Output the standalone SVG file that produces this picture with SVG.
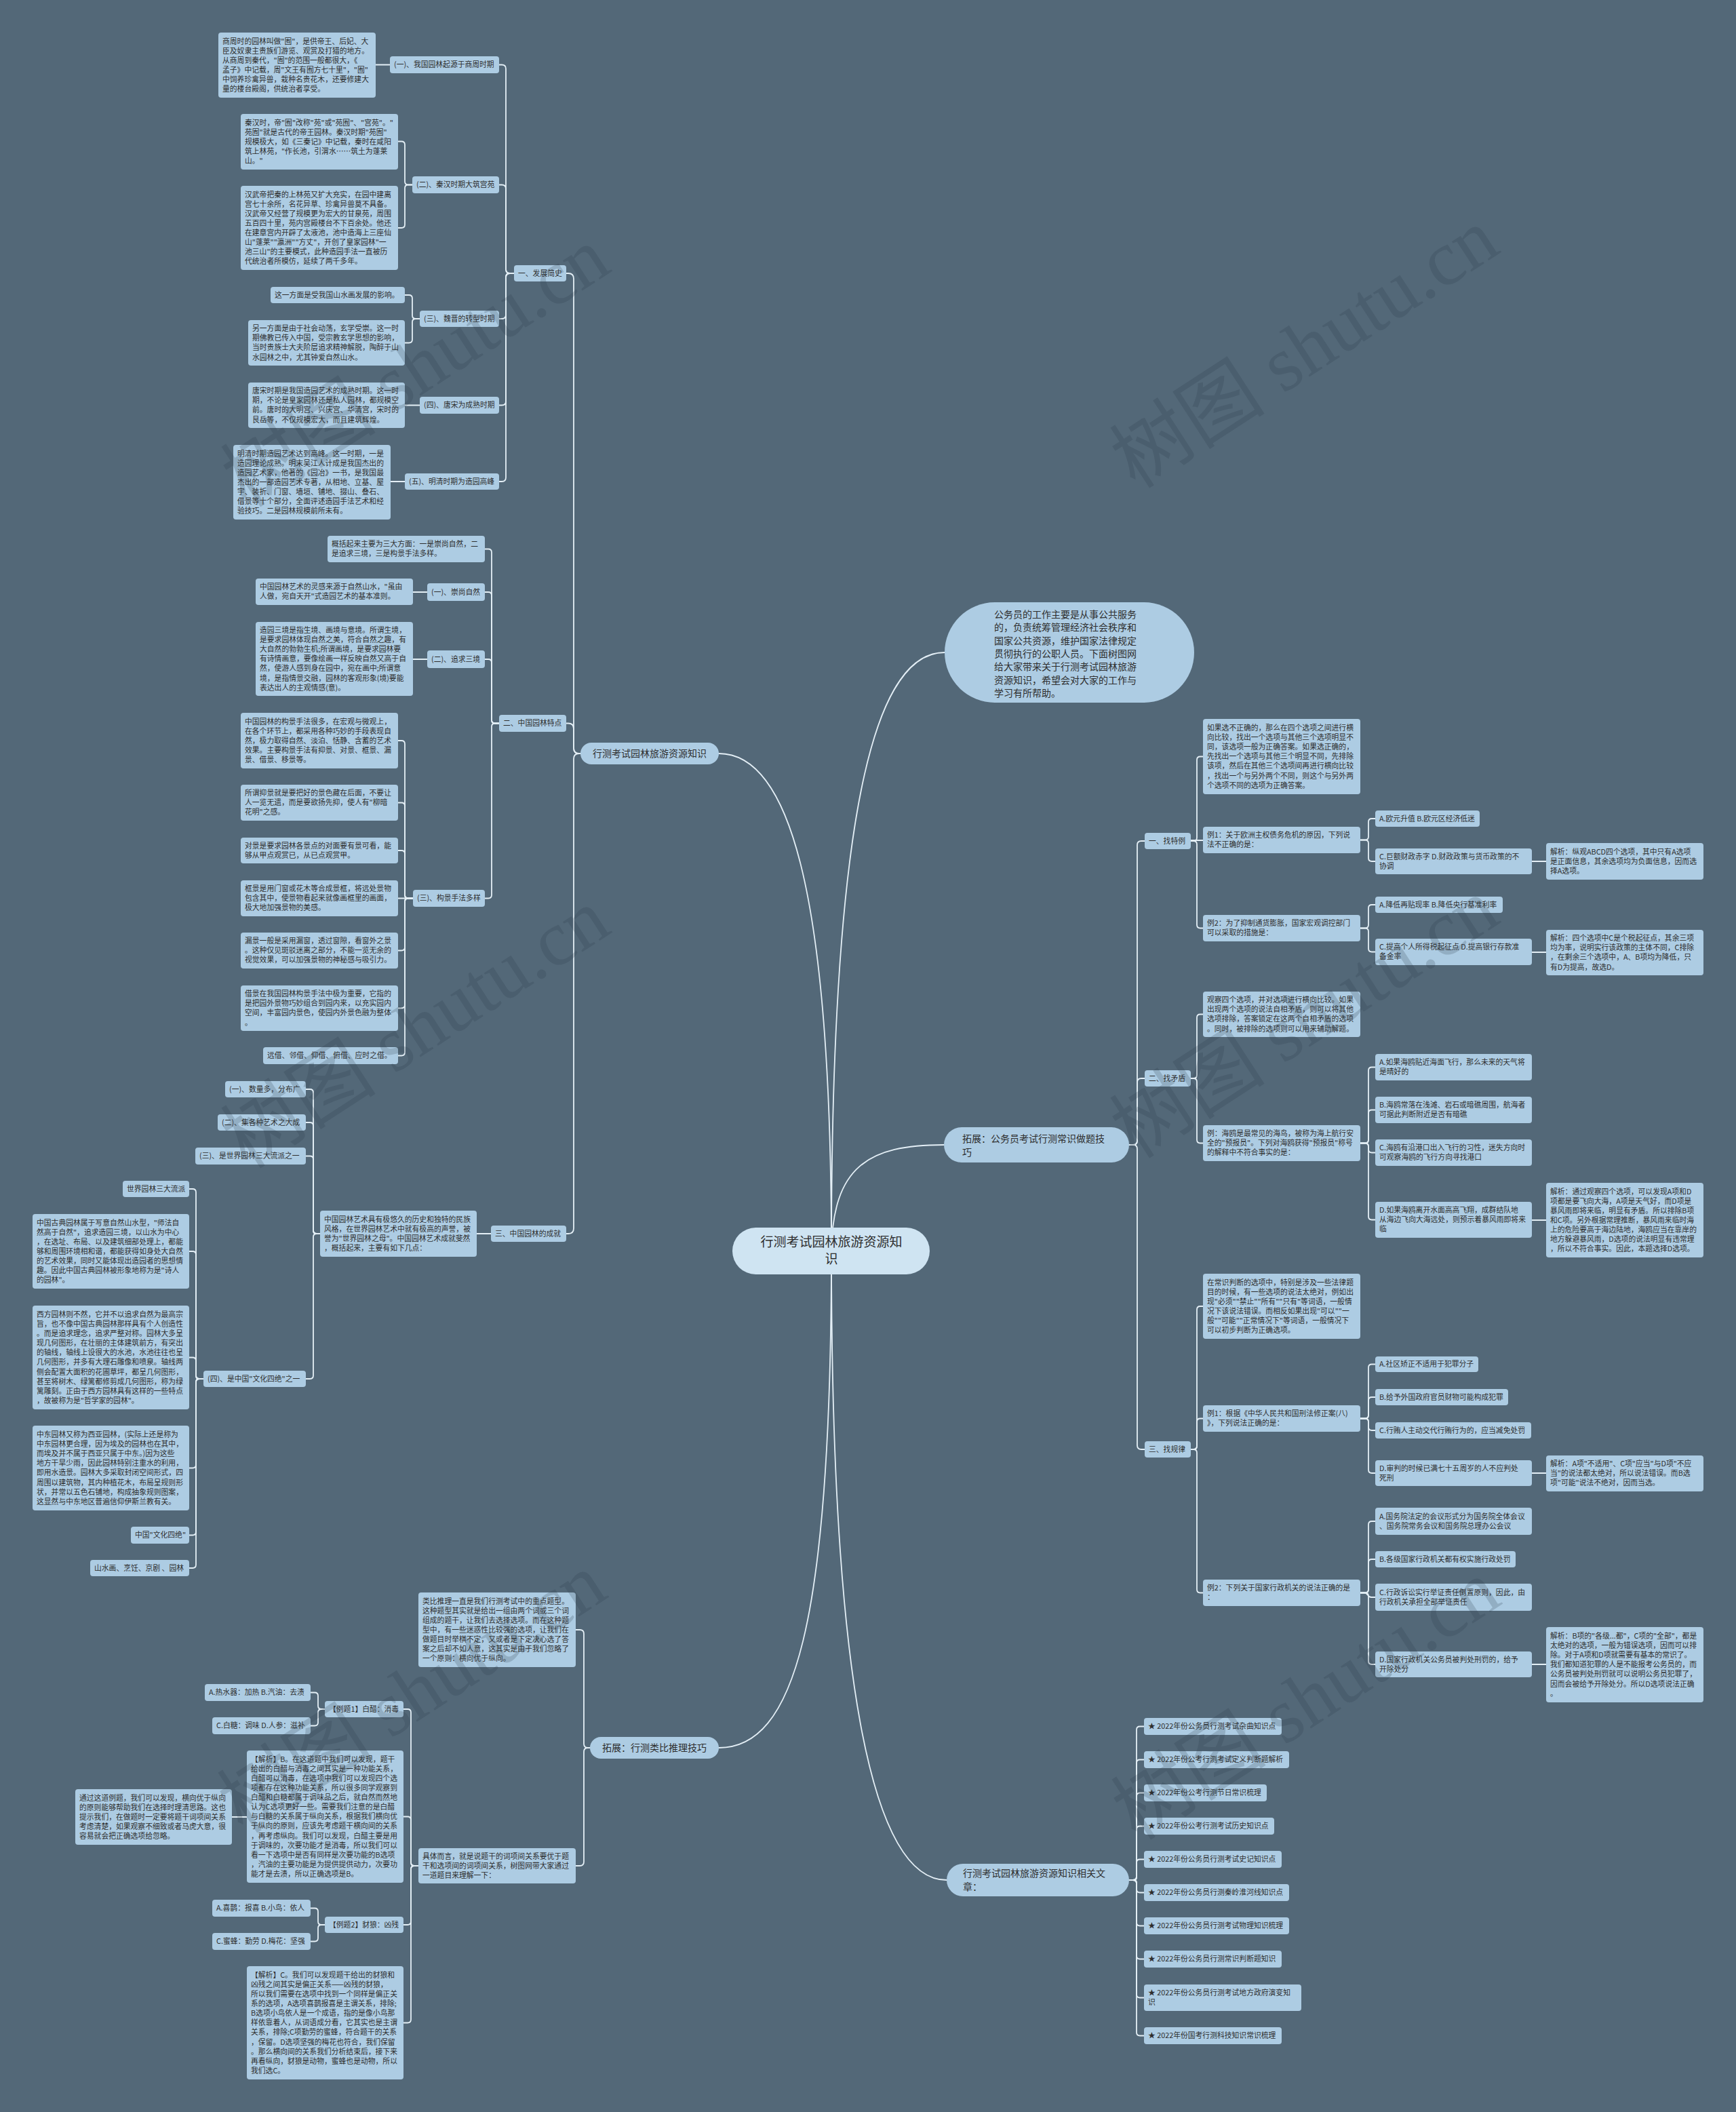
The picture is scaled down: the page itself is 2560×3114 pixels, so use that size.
<svg xmlns="http://www.w3.org/2000/svg" width="2560" height="3114" viewBox="0 0 2560 3114">
<style>
.c{fill:none;stroke:#E4EFF6;stroke-width:1.8;stroke-linecap:round}
.b{fill:#ADCCE3}
.t{font-family:"Noto Sans CJK SC","Noto Sans",sans-serif;font-size:10.8px;fill:#2E2E2E}
.tl{font-size:14px}
.tc{font-size:19px}
.wm{font-family:"Liberation Serif","Noto Sans CJK SC",serif;font-size:115px;fill:#2A3844;fill-opacity:0.2}
</style>
<rect x="0" y="0" width="2560" height="3114" fill="#536878"/>
<g id="connectors">
<path class="c" d="M1226,1845 C1226,1300 1160,1111 1060,1111"/>
<path class="c" d="M1226,1845 C1226,2400 1170,2577 1060,2577"/>
<path class="c" d="M1226,1845 C1226,1150 1300,962 1393,962"/>
<path class="c" d="M1226,1845 C1228,1720 1280,1688 1392,1688"/>
<path class="c" d="M1226,1845 C1226,2500 1290,2772 1396,2772"/>
<path class="c" d="M856,1111 H854 Q846,1111 846,1103 V411 Q846,403 838,403 H835"/>
<path class="c" d="M856,1111 H854 Q846,1111 846,1103 V1074.5 Q846,1066.5 838,1066.5 H835"/>
<path class="c" d="M856,1111 H854 Q846,1111 846,1119 V1811 Q846,1819 838,1819 H835"/>
<path class="c" d="M758,403 H752 Q746,403 746,397 V101.5 Q746,95.5 740,95.5 H736"/>
<path class="c" d="M758,403 H752 Q746,403 746,397 V278.5 Q746,272.5 740,272.5 H736"/>
<path class="c" d="M758,403 H752 Q746,403 746,409 V464 Q746,470 740,470 H736"/>
<path class="c" d="M758,403 H752 Q746,403 746,409 V591.5 Q746,597.5 740,597.5 H736"/>
<path class="c" d="M758,403 H752 Q746,403 746,409 V704 Q746,710 740,710 H736"/>
<path class="c" d="M575,95.5 H554"/>
<path class="c" d="M608,272.5 H602 Q597,272.5 597,267.5 V213.5 Q597,208.5 592,208.5 H587"/>
<path class="c" d="M608,272.5 H602 Q597,272.5 597,277.5 V331 Q597,336 592,336 H587"/>
<path class="c" d="M619,470 H613 Q608,470 608,465 V440 Q608,435 603,435 H597"/>
<path class="c" d="M619,470 H613 Q608,470 608,475 V500.5 Q608,505.5 603,505.5 H597"/>
<path class="c" d="M619,597.5 H597"/>
<path class="c" d="M597,710 H576"/>
<path class="c" d="M736,1066.5 H730 Q725,1066.5 725,1061.5 V814.5 Q725,809.5 720,809.5 H715"/>
<path class="c" d="M736,1066.5 H730 Q725,1066.5 725,1061.5 V878 Q725,873 720,873 H715"/>
<path class="c" d="M736,1066.5 H730 Q725,1066.5 725,1061.5 V977 Q725,972 720,972 H715"/>
<path class="c" d="M736,1066.5 H730 Q725,1066.5 725,1071.5 V1319.5 Q725,1324.5 720,1324.5 H715"/>
<path class="c" d="M630,873 H609"/>
<path class="c" d="M630,972 H609"/>
<path class="c" d="M609,1324.5 H602 Q597,1324.5 597,1319.5 V1097 Q597,1092 592,1092 H587"/>
<path class="c" d="M609,1324.5 H602 Q597,1324.5 597,1319.5 V1188.5 Q597,1183.5 592,1183.5 H587"/>
<path class="c" d="M609,1324.5 H602 Q597,1324.5 597,1319.5 V1259 Q597,1254 592,1254 H587"/>
<path class="c" d="M609,1324.5 H587"/>
<path class="c" d="M609,1324.5 H602 Q597,1324.5 597,1329.5 V1396.5 Q597,1401.5 592,1401.5 H587"/>
<path class="c" d="M609,1324.5 H602 Q597,1324.5 597,1329.5 V1481.5 Q597,1486.5 592,1486.5 H587"/>
<path class="c" d="M609,1324.5 H602 Q597,1324.5 597,1329.5 V1551.5 Q597,1556.5 592,1556.5 H587"/>
<path class="c" d="M724,1819 H703"/>
<path class="c" d="M472,1819 H467 Q462,1819 462,1814 V1611 Q462,1606 457,1606 H451"/>
<path class="c" d="M472,1819 H467 Q462,1819 462,1814 V1660 Q462,1655 457,1655 H451"/>
<path class="c" d="M472,1819 H467 Q462,1819 462,1814 V1709.5 Q462,1704.5 457,1704.5 H451"/>
<path class="c" d="M472,1819 H467 Q462,1819 462,1824 V2028 Q462,2033 457,2033 H451"/>
<path class="c" d="M300,2033 H294 Q289,2033 289,2028 V1758 Q289,1753 284,1753 H279"/>
<path class="c" d="M300,2033 H294 Q289,2033 289,2028 V1850 Q289,1845 284,1845 H279"/>
<path class="c" d="M300,2033 H294 Q289,2033 289,2028 V2006.5 Q289,2001.5 284,2001.5 H279"/>
<path class="c" d="M300,2033 H294 Q289,2033 289,2038 V2159.5 Q289,2164.5 284,2164.5 H279"/>
<path class="c" d="M300,2033 H294 Q289,2033 289,2038 V2258.5 Q289,2263.5 284,2263.5 H279"/>
<path class="c" d="M300,2033 H294 Q289,2033 289,2038 V2307 Q289,2312 284,2312 H279"/>
<path class="c" d="M870,2577 H867 Q861,2577 861,2571 V2409 Q861,2403 855,2403 H849"/>
<path class="c" d="M870,2577 H867 Q861,2577 861,2583 V2745 Q861,2751 855,2751 H849"/>
<path class="c" d="M617,2751 H611 Q606,2751 606,2746 V2525 Q606,2520 601,2520 H595"/>
<path class="c" d="M617,2751 H611 Q606,2751 606,2746 V2683.5 Q606,2678.5 601,2678.5 H595"/>
<path class="c" d="M617,2751 H611 Q606,2751 606,2756 V2833 Q606,2838 601,2838 H595"/>
<path class="c" d="M617,2751 H611 Q606,2751 606,2756 V2977.5 Q606,2982.5 601,2982.5 H595"/>
<path class="c" d="M479,2520 H474 Q469,2520 469,2515 V2500.5 Q469,2495.5 464,2495.5 H458"/>
<path class="c" d="M479,2520 H474 Q469,2520 469,2525 V2539.5 Q469,2544.5 464,2544.5 H458"/>
<path class="c" d="M364,2679 H342"/>
<path class="c" d="M479,2838 H474 Q469,2838 469,2833 V2818.5 Q469,2813.5 464,2813.5 H458"/>
<path class="c" d="M479,2838 H474 Q469,2838 469,2843 V2857.5 Q469,2862.5 464,2862.5 H458"/>
<path class="c" d="M1665,1688 H1671 Q1677,1688 1677,1682 V1246 Q1677,1240 1683,1240 H1688"/>
<path class="c" d="M1665,1688 H1671 Q1677,1688 1677,1682 V1596 Q1677,1590 1683,1590 H1688"/>
<path class="c" d="M1665,1688 H1671 Q1677,1688 1677,1694 V2131 Q1677,2137 1683,2137 H1688"/>
<path class="c" d="M1756,1240 H1760 Q1765,1240 1765,1235 V1120.5 Q1765,1115.5 1770,1115.5 H1774"/>
<path class="c" d="M1756,1239 H1774"/>
<path class="c" d="M1756,1240 H1760 Q1765,1240 1765,1245 V1363.5 Q1765,1368.5 1770,1368.5 H1774"/>
<path class="c" d="M2006,1238.5 H2013 Q2018,1238.5 2018,1233.5 V1212 Q2018,1207 2023,1207 H2028"/>
<path class="c" d="M2006,1238.5 H2013 Q2018,1238.5 2018,1243.5 V1265 Q2018,1270 2023,1270 H2028"/>
<path class="c" d="M2259,1270 H2280"/>
<path class="c" d="M2006,1368.5 H2013 Q2018,1368.5 2018,1363.5 V1339 Q2018,1334 2023,1334 H2028"/>
<path class="c" d="M2006,1368.5 H2013 Q2018,1368.5 2018,1373.5 V1398.5 Q2018,1403.5 2023,1403.5 H2028"/>
<path class="c" d="M2259,1404 H2280"/>
<path class="c" d="M1756,1590 H1760 Q1765,1590 1765,1585 V1500.5 Q1765,1495.5 1770,1495.5 H1774"/>
<path class="c" d="M1756,1590 H1760 Q1765,1590 1765,1595 V1680.5 Q1765,1685.5 1770,1685.5 H1774"/>
<path class="c" d="M2006,1685.5 H2013 Q2018,1685.5 2018,1680.5 V1578.5 Q2018,1573.5 2023,1573.5 H2028"/>
<path class="c" d="M2006,1685.5 H2013 Q2018,1685.5 2018,1680.5 V1641.5 Q2018,1636.5 2023,1636.5 H2028"/>
<path class="c" d="M2006,1685.5 H2013 Q2018,1685.5 2018,1690.5 V1694.5 Q2018,1699.5 2023,1699.5 H2028"/>
<path class="c" d="M2006,1685.5 H2013 Q2018,1685.5 2018,1690.5 V1793.5 Q2018,1798.5 2023,1798.5 H2028"/>
<path class="c" d="M2259,1799 H2280"/>
<path class="c" d="M1756,2137 H1760 Q1765,2137 1765,2132 V1931 Q1765,1926 1770,1926 H1774"/>
<path class="c" d="M1756,2137 H1760 Q1765,2137 1765,2132 V2096.5 Q1765,2091.5 1770,2091.5 H1774"/>
<path class="c" d="M1756,2137 H1760 Q1765,2137 1765,2142 V2343.5 Q1765,2348.5 1770,2348.5 H1774"/>
<path class="c" d="M2006,2091.5 H2013 Q2018,2091.5 2018,2086.5 V2016.5 Q2018,2011.5 2023,2011.5 H2028"/>
<path class="c" d="M2006,2091.5 H2013 Q2018,2091.5 2018,2086.5 V2065 Q2018,2060 2023,2060 H2028"/>
<path class="c" d="M2006,2091.5 H2013 Q2018,2091.5 2018,2096.5 V2104 Q2018,2109 2023,2109 H2028"/>
<path class="c" d="M2006,2091.5 H2013 Q2018,2091.5 2018,2096.5 V2167 Q2018,2172 2023,2172 H2028"/>
<path class="c" d="M2259,2172 H2280"/>
<path class="c" d="M2006,2348.5 H2013 Q2018,2348.5 2018,2343.5 V2248 Q2018,2243 2023,2243 H2028"/>
<path class="c" d="M2006,2348.5 H2013 Q2018,2348.5 2018,2343.5 V2304 Q2018,2299 2023,2299 H2028"/>
<path class="c" d="M2006,2348.5 H2012 C2018,2348.5 2016,2355 2022,2355 H2028"/>
<path class="c" d="M2006,2348.5 H2013 Q2018,2348.5 2018,2353.5 V2449 Q2018,2454 2023,2454 H2028"/>
<path class="c" d="M2259,2454 H2280"/>
<path class="c" d="M1665,2772 H1671 Q1676,2772 1676,2767 V2550.5 Q1676,2545.5 1681,2545.5 H1687"/>
<path class="c" d="M1665,2772 H1671 Q1676,2772 1676,2767 V2599.5 Q1676,2594.5 1681,2594.5 H1687"/>
<path class="c" d="M1665,2772 H1671 Q1676,2772 1676,2767 V2648.5 Q1676,2643.5 1681,2643.5 H1687"/>
<path class="c" d="M1665,2772 H1671 Q1676,2772 1676,2767 V2697.5 Q1676,2692.5 1681,2692.5 H1687"/>
<path class="c" d="M1665,2772 H1671 Q1676,2772 1676,2767 V2746.5 Q1676,2741.5 1681,2741.5 H1687"/>
<path class="c" d="M1665,2772 H1671 Q1676,2772 1676,2777 V2785.5 Q1676,2790.5 1681,2790.5 H1687"/>
<path class="c" d="M1665,2772 H1671 Q1676,2772 1676,2777 V2834.5 Q1676,2839.5 1681,2839.5 H1687"/>
<path class="c" d="M1665,2772 H1671 Q1676,2772 1676,2777 V2883.5 Q1676,2888.5 1681,2888.5 H1687"/>
<path class="c" d="M1665,2772 H1671 Q1676,2772 1676,2777 V2940.5 Q1676,2945.5 1681,2945.5 H1687"/>
<path class="c" d="M1665,2772 H1671 Q1676,2772 1676,2777 V2996.5 Q1676,3001.5 1681,3001.5 H1687"/>
</g>

<g id="root"><rect x="1080" y="1810" width="291" height="69" rx="34.5" fill="#CFE4F2"/><text class="t tc" x="1226" y="1837.5" text-anchor="middle"><tspan x="1226">行测考试园林旅游资源知</tspan><tspan x="1226" dy="25">识</tspan></text></g>

<g id="b-main"><rect class="b" x="856" y="1095" width="204" height="32" rx="16"/><text class="t tl" x="958" y="1116" text-anchor="middle">行测考试园林旅游资源知识</text></g>
<g id="b-analogy"><rect class="b" x="870" y="2561" width="190" height="32" rx="16"/><text class="t tl" x="965" y="2582" text-anchor="middle">拓展：行测类比推理技巧</text></g>
<g id="b-intro"><rect class="b" x="1393" y="888" width="368" height="148" rx="74"/><text class="t tl" x="1466" y="911"><tspan x="1466">公务员的工作主要是从事公共服务</tspan><tspan x="1466" dy="19.3">的，负责统筹管理经济社会秩序和</tspan><tspan x="1466" dy="19.3">国家公共资源，维护国家法律规定</tspan><tspan x="1466" dy="19.3">贯彻执行的公职人员。下面树图网</tspan><tspan x="1466" dy="19.3">给大家带来关于行测考试园林旅游</tspan><tspan x="1466" dy="19.3">资源知识，希望会对大家的工作与</tspan><tspan x="1466" dy="19.3">学习有所帮助。</tspan></text></g>
<g id="b-tips"><rect class="b" x="1392" y="1662" width="273" height="52" rx="26"/><text class="t tl" x="1419" y="1684"><tspan x="1419">拓展：公务员考试行测常识做题技</tspan><tspan x="1419" dy="20">巧</tspan></text></g>
<g id="b-related"><rect class="b" x="1396" y="2748" width="269" height="48" rx="24"/><text class="t tl" x="1420" y="2767"><tspan x="1420">行测考试园林旅游资源知识相关文</tspan><tspan x="1420" dy="20">章：</tspan></text></g>

<g id="n-hist"><rect class="b" x="758" y="391" width="77" height="24" rx="4"/><text class="t" x="764" y="406.8">一、发展简史</text></g>
<g id="n-h1"><rect class="b" x="575" y="83" width="161" height="25" rx="4"/><text class="t" x="581" y="99.3">(一)、我国园林起源于商周时期</text></g>
<g id="n-h1a"><rect class="b" x="322" y="48" width="232" height="96" rx="4"/><text class="t" x="328" y="64.5"><tspan x="328">商周时的园林叫做"囿"，是供帝王、后妃、大</tspan><tspan x="328" dy="14.1">臣及奴隶主贵族们游览、观赏及打猎的地方。</tspan><tspan x="328" dy="14.1">从商周到秦代，"囿"的范围一般都很大，《</tspan><tspan x="328" dy="14.1">孟子》中记载，周"文王有囿方七十里"，"囿"</tspan><tspan x="328" dy="14.1">中饲养珍禽异兽，栽种名贵花木，还要修建大</tspan><tspan x="328" dy="14.1">量的楼台殿阁，供统治者享受。</tspan></text></g>
<g id="n-h2"><rect class="b" x="608" y="260" width="128" height="25" rx="4"/><text class="t" x="614" y="276.3">(二)、秦汉时期大筑宫苑</text></g>
<g id="n-h2a"><rect class="b" x="355" y="168" width="232" height="82" rx="4"/><text class="t" x="361" y="184.6"><tspan x="361">秦汉时，帝"囿"改称"苑"或"苑囿"、"宫苑"。"</tspan><tspan x="361" dy="14.1">苑囿"就是古代的帝王园林。秦汉时期"苑囿"</tspan><tspan x="361" dy="14.1">规模极大，如《三秦记》中记载，秦时在咸阳</tspan><tspan x="361" dy="14.1">筑上林苑，"作长池，引渭水……筑土为蓬莱</tspan><tspan x="361" dy="14.1">山。"</tspan></text></g>
<g id="n-h2b"><rect class="b" x="355" y="274" width="232" height="124" rx="4"/><text class="t" x="361" y="290.5"><tspan x="361">汉武帝把秦的上林苑又扩大充实，在园中建离</tspan><tspan x="361" dy="14.1">宫七十余所，名花异草、珍禽异兽莫不具备。</tspan><tspan x="361" dy="14.1">汉武帝又经营了规模更为宏大的甘泉苑，周围</tspan><tspan x="361" dy="14.1">五百四十里，苑内宫殿楼台不下百余处。他还</tspan><tspan x="361" dy="14.1">在建章宫内开辟了太液池，池中造海上三座仙</tspan><tspan x="361" dy="14.1">山"蓬莱""瀛洲""方丈"，开创了皇家园林"一</tspan><tspan x="361" dy="14.1">池三山"的主要模式，此种造园手法一直被历</tspan><tspan x="361" dy="14.1">代统治者所模仿，延续了两千多年。</tspan></text></g>
<g id="n-h3"><rect class="b" x="619" y="458" width="117" height="24" rx="4"/><text class="t" x="625" y="473.8">(三)、魏晋的转型时期</text></g>
<g id="n-h3a"><rect class="b" x="399" y="423" width="198" height="24" rx="4"/><text class="t" x="405" y="438.8">这一方面是受我国山水画发展的影响。</text></g>
<g id="n-h3b"><rect class="b" x="366" y="472" width="231" height="67" rx="4"/><text class="t" x="372" y="488.2"><tspan x="372">另一方面是由于社会动荡，玄学受崇。这一时</tspan><tspan x="372" dy="14.1">期佛教已传入中国，受宗教玄学思想的影响，</tspan><tspan x="372" dy="14.1">当时贵族士大夫阶层追求精神解脱，陶醉于山</tspan><tspan x="372" dy="14.1">水园林之中，尤其钟爱自然山水。</tspan></text></g>
<g id="n-h4"><rect class="b" x="619" y="585" width="117" height="25" rx="4"/><text class="t" x="625" y="601.3">(四)、唐宋为成熟时期</text></g>
<g id="n-h4a"><rect class="b" x="366" y="564" width="231" height="67" rx="4"/><text class="t" x="372" y="580.2"><tspan x="372">唐宋时期是我国造园艺术的成熟时期。这一时</tspan><tspan x="372" dy="14.1">期，不论是皇家园林还是私人园林，都规模空</tspan><tspan x="372" dy="14.1">前。唐时的大明宫、兴庆宫、华清宫，宋时的</tspan><tspan x="372" dy="14.1">艮岳等，不仅规模宏大，而且建筑辉煌。</tspan></text></g>
<g id="n-h5"><rect class="b" x="597" y="698" width="139" height="24" rx="4"/><text class="t" x="603" y="713.8">(五)、明清时期为造园高峰</text></g>
<g id="n-h5a"><rect class="b" x="344" y="656" width="232" height="110" rx="4"/><text class="t" x="350" y="672.5"><tspan x="350">明清时期造园艺术达到高峰。这一时期，一是</tspan><tspan x="350" dy="14.1">造园理论成熟。明末吴江人计成是我国杰出的</tspan><tspan x="350" dy="14.1">造园艺术家，他著的《园冶》一书，是我国最</tspan><tspan x="350" dy="14.1">杰出的一部造园艺术专著，从相地、立基、屋</tspan><tspan x="350" dy="14.1">宇、装折、门窗、墙垣、铺地、掇山、叠石、</tspan><tspan x="350" dy="14.1">借景等十个部分，全面评述造园手法艺术和经</tspan><tspan x="350" dy="14.1">验技巧。二是园林规模前所未有。</tspan></text></g>

<g id="n-feat"><rect class="b" x="736" y="1054" width="99" height="25" rx="4"/><text class="t" x="742" y="1070.3">二、中国园林特点</text></g>
<g id="n-f0"><rect class="b" x="483" y="790" width="232" height="39" rx="4"/><text class="t" x="489" y="806.3"><tspan x="489">概括起来主要为三大方面：一是崇尚自然，二</tspan><tspan x="489" dy="14.1">是追求三境，三是构景手法多样。</tspan></text></g>
<g id="n-f1"><rect class="b" x="630" y="860" width="85" height="26" rx="4"/><text class="t" x="636" y="876.8">(一)、崇尚自然</text></g>
<g id="n-f1a"><rect class="b" x="377" y="853" width="232" height="39" rx="4"/><text class="t" x="383" y="869.3"><tspan x="383">中国园林艺术的灵感来源于自然山水，"虽由</tspan><tspan x="383" dy="14.1">人做，宛自天开"式造园艺术的基本准则。</tspan></text></g>
<g id="n-f2"><rect class="b" x="630" y="959" width="85" height="26" rx="4"/><text class="t" x="636" y="975.8">(二)、追求三境</text></g>
<g id="n-f2a"><rect class="b" x="377" y="917" width="232" height="109" rx="4"/><text class="t" x="383" y="933"><tspan x="383">造园三境是指生境、画境与意境。所谓生境，</tspan><tspan x="383" dy="14.1">是要求园林体现自然之美，符合自然之趣，有</tspan><tspan x="383" dy="14.1">大自然的勃勃生机;所谓画境，是要求园林要</tspan><tspan x="383" dy="14.1">有诗情画意，要像绘画一样反映自然又高于自</tspan><tspan x="383" dy="14.1">然，使游人感到身在园中，宛在画中;所谓意</tspan><tspan x="383" dy="14.1">境，是指情景交融，园林的客观形象(境)要能</tspan><tspan x="383" dy="14.1">表达出人的主观情感(意)。</tspan></text></g>
<g id="n-f3"><rect class="b" x="609" y="1312" width="106" height="25" rx="4"/><text class="t" x="615" y="1328.3">(三)、构景手法多样</text></g>
<g id="n-f3a"><rect class="b" x="355" y="1051" width="232" height="82" rx="4"/><text class="t" x="361" y="1067.6"><tspan x="361">中国园林的构景手法很多，在宏观与微观上，</tspan><tspan x="361" dy="14.1">在各个环节上，都采用各种巧妙的手段表现自</tspan><tspan x="361" dy="14.1">然，极力取得自然、淡泊、恬静、含蓄的艺术</tspan><tspan x="361" dy="14.1">效果。主要构景手法有抑景、对景、框景、漏</tspan><tspan x="361" dy="14.1">景、借景、移景等。</tspan></text></g>
<g id="n-f3b"><rect class="b" x="355" y="1157" width="232" height="53" rx="4"/><text class="t" x="361" y="1173.2"><tspan x="361">所谓抑景就是要把好的景色藏在后面，不要让</tspan><tspan x="361" dy="14.1">人一览无遗，而是要欲扬先抑，使人有"柳暗</tspan><tspan x="361" dy="14.1">花明"之感。</tspan></text></g>
<g id="n-f3c"><rect class="b" x="355" y="1235" width="232" height="38" rx="4"/><text class="t" x="361" y="1250.8"><tspan x="361">对景是要求园林各景点的对面要有景可看，能</tspan><tspan x="361" dy="14.1">够从甲点观赏已，从已点观赏甲。</tspan></text></g>
<g id="n-f3d"><rect class="b" x="355" y="1298" width="232" height="53" rx="4"/><text class="t" x="361" y="1314.2"><tspan x="361">框景是用门窗或花木等合成景框，将远处景物</tspan><tspan x="361" dy="14.1">包含其中，使景物看起来就像画框里的画面，</tspan><tspan x="361" dy="14.1">极大地加强景物的美感。</tspan></text></g>
<g id="n-f3e"><rect class="b" x="355" y="1375" width="232" height="53" rx="4"/><text class="t" x="361" y="1391.2"><tspan x="361">漏景一般是采用漏窗，透过窗隙，看窗外之景</tspan><tspan x="361" dy="14.1">。这种仅见斑驳迷离之部分，不能一览无余的</tspan><tspan x="361" dy="14.1">视觉效果，可以加强景物的神秘感与吸引力。</tspan></text></g>
<g id="n-f3f"><rect class="b" x="355" y="1453" width="232" height="67" rx="4"/><text class="t" x="361" y="1469.2"><tspan x="361">借景在我国园林构景手法中极为重要，它指的</tspan><tspan x="361" dy="14.1">是把园外景物巧妙组合到园内来，以充实园内</tspan><tspan x="361" dy="14.1">空间，丰富园内景色，使园内外景色融为整体</tspan><tspan x="361" dy="14.1">。</tspan></text></g>
<g id="n-f3g"><rect class="b" x="388" y="1544" width="199" height="25" rx="4"/><text class="t" x="394" y="1560.3">远借、邻借、仰借、俯借、应时之借。</text></g>

<g id="n-ach"><rect class="b" x="724" y="1807" width="111" height="24" rx="4"/><text class="t" x="730" y="1822.8">三、中国园林的成就</text></g>
<g id="n-a0"><rect class="b" x="472" y="1785" width="231" height="68" rx="4"/><text class="t" x="478" y="1801.7"><tspan x="478">中国园林艺术具有极悠久的历史和独特的民族</tspan><tspan x="478" dy="14.1">风格，在世界园林艺术中就有极高的声誉，被</tspan><tspan x="478" dy="14.1">誉为"世界园林之母"。中国园林艺术成就斐然</tspan><tspan x="478" dy="14.1">，概括起来，主要有如下几点：</tspan></text></g>
<g id="n-a1"><rect class="b" x="332" y="1594" width="119" height="24" rx="4"/><text class="t" x="338" y="1609.8">(一)、数量多，分布广</text></g>
<g id="n-a2"><rect class="b" x="321" y="1643" width="130" height="24" rx="4"/><text class="t" x="327" y="1658.8">(二)、集各种艺术之大成</text></g>
<g id="n-a3"><rect class="b" x="288" y="1692" width="163" height="25" rx="4"/><text class="t" x="294" y="1708.3">(三)、是世界园林三大流派之一</text></g>
<g id="n-a4"><rect class="b" x="300" y="2021" width="151" height="24" rx="4"/><text class="t" x="306" y="2036.8">(四)、是中国"文化四绝"之一</text></g>
<g id="n-a4a"><rect class="b" x="181" y="1741" width="98" height="24" rx="4"/><text class="t" x="187" y="1756.8">世界园林三大流派</text></g>
<g id="n-a4b"><rect class="b" x="48" y="1790" width="231" height="110" rx="4"/><text class="t" x="54" y="1806.5"><tspan x="54">中国古典园林属于写意自然山水型，"师法自</tspan><tspan x="54" dy="14.1">然高于自然"，追求造园三境，以山水为中心</tspan><tspan x="54" dy="14.1">，在选址、布局、以及建筑细部处理上，都能</tspan><tspan x="54" dy="14.1">够和周围环境相和谐，都能获得如身处大自然</tspan><tspan x="54" dy="14.1">的艺术效果，同时又能体现出造园者的思想情</tspan><tspan x="54" dy="14.1">趣。因此中国古典园林被形象地称为是"诗人</tspan><tspan x="54" dy="14.1">的园林"。</tspan></text></g>
<g id="n-a4c"><rect class="b" x="48" y="1925" width="231" height="153" rx="4"/><text class="t" x="54" y="1941.9"><tspan x="54">西方园林则不然，它并不以追求自然为最高宗</tspan><tspan x="54" dy="14.1">旨，也不像中国古典园林那样具有个人创造性</tspan><tspan x="54" dy="14.1">。而是追求理念，追求严整对称。园林大多呈</tspan><tspan x="54" dy="14.1">现几何图形，在壮丽的主体建筑前方，有突出</tspan><tspan x="54" dy="14.1">的轴线，轴线上设很大的水池，水池往往也呈</tspan><tspan x="54" dy="14.1">几何图形，并多有大理石雕像和喷泉。轴线两</tspan><tspan x="54" dy="14.1">侧会配置大面积的花圃草坪，都呈几何图形，</tspan><tspan x="54" dy="14.1">甚至将树木、绿篱都修剪成几何图形，称为绿</tspan><tspan x="54" dy="14.1">篱雕刻。正由于西方园林具有这样的一些特点</tspan><tspan x="54" dy="14.1">，故被称为是"哲学家的园林"。</tspan></text></g>
<g id="n-a4d"><rect class="b" x="48" y="2102" width="231" height="125" rx="4"/><text class="t" x="54" y="2119"><tspan x="54">中东园林又称为西亚园林，(实际上还是称为</tspan><tspan x="54" dy="14.1">中东园林更合理，因为埃及的园林也在其中，</tspan><tspan x="54" dy="14.1">而埃及并不属于西亚只属于中东。)因为这些</tspan><tspan x="54" dy="14.1">地方干旱少雨，因此园林特别注重水的利用，</tspan><tspan x="54" dy="14.1">即用水造景。园林大多采取封闭空间形式，四</tspan><tspan x="54" dy="14.1">周围以建筑物，其内种植花木，布局呈规则形</tspan><tspan x="54" dy="14.1">状，并常以五色石铺地，构成抽象规则图案，</tspan><tspan x="54" dy="14.1">这显然与中东地区普遍信仰伊斯兰教有关。</tspan></text></g>
<g id="n-a4e"><rect class="b" x="193" y="2251" width="86" height="25" rx="4"/><text class="t" x="199" y="2267.3">中国"文化四绝"</text></g>
<g id="n-a4f"><rect class="b" x="133" y="2300" width="146" height="24" rx="4"/><text class="t" x="139" y="2315.8">山水画、烹饪、京剧 、园林</text></g>

<g id="n-an0"><rect class="b" x="617" y="2348" width="232" height="110" rx="4"/><text class="t" x="623" y="2364.5"><tspan x="623">类比推理一直是我们行测考试中的重点题型。</tspan><tspan x="623" dy="14.1">这种题型其实就是给出一组由两个词或三个词</tspan><tspan x="623" dy="14.1">组成的题干，让我们去选择选项。而在这种题</tspan><tspan x="623" dy="14.1">型中，有一些迷惑性比较强的选项，让我们在</tspan><tspan x="623" dy="14.1">做题目时举棋不定，又或者是下定决心选了答</tspan><tspan x="623" dy="14.1">案之后却不如人意，这其实是由于我们忽略了</tspan><tspan x="623" dy="14.1">一个原则：横向优于纵向。</tspan></text></g>
<g id="n-an1"><rect class="b" x="617" y="2725" width="232" height="52" rx="4"/><text class="t" x="623" y="2740.7"><tspan x="623">具体而言，就是说题干的词项间关系要优于题</tspan><tspan x="623" dy="14.1">干和选项间的词项间关系，树图网带大家通过</tspan><tspan x="623" dy="14.1">一道题目来理解一下：</tspan></text></g>
<g id="n-ex1"><rect class="b" x="479" y="2508" width="116" height="24" rx="4"/><text class="t" x="485" y="2523.8">【例题1】白醋：消毒</text></g>
<g id="n-ex1a"><rect class="b" x="302" y="2483" width="156" height="25" rx="4"/><text class="t" x="308" y="2499.3">A.热水器：加热 B.汽油：去渍</text></g>
<g id="n-ex1c"><rect class="b" x="313" y="2532" width="145" height="25" rx="4"/><text class="t" x="319" y="2548.3">C.白糖：调味 D.人参：滋补</text></g>
<g id="n-ex1s"><rect class="b" x="364" y="2581" width="231" height="195" rx="4"/><text class="t" x="370" y="2597.7"><tspan x="370">【解析】B。在这道题中我们可以发现，题干</tspan><tspan x="370" dy="14.1">给出的白醋与消毒之间其实是一种功能关系，</tspan><tspan x="370" dy="14.1">白醋可以消毒，在选项中我们可以发现四个选</tspan><tspan x="370" dy="14.1">项都存在这种功能关系，所以很多同学观察到</tspan><tspan x="370" dy="14.1">白醋和白糖都属于调味品之后，就自然而然地</tspan><tspan x="370" dy="14.1">认为C选项更好一些。需要我们注意的是白醋</tspan><tspan x="370" dy="14.1">与白糖的关系属于纵向关系，根据我们横向优</tspan><tspan x="370" dy="14.1">于纵向的原则，应该先考虑题干横向间的关系</tspan><tspan x="370" dy="14.1">，再考虑纵向。我们可以发现，白醋主要是用</tspan><tspan x="370" dy="14.1">于调味的，次要功能才是消毒，所以我们可以</tspan><tspan x="370" dy="14.1">看一下选项中是否有同样是次要功能的B选项</tspan><tspan x="370" dy="14.1">，汽油的主要功能是为提供提供动力，次要功</tspan><tspan x="370" dy="14.1">能才是去渍，所以正确选项是B。</tspan></text></g>
<g id="n-ex1t"><rect class="b" x="111" y="2638" width="231" height="82" rx="4"/><text class="t" x="117" y="2654.6"><tspan x="117">通过这道例题，我们可以发现，横向优于纵向</tspan><tspan x="117" dy="14.1">的原则能够帮助我们在选择时理清思路。这也</tspan><tspan x="117" dy="14.1">提示我们，在做题时一定要将题干词项间关系</tspan><tspan x="117" dy="14.1">考虑清楚，如果观察不细致或者马虎大意，很</tspan><tspan x="117" dy="14.1">容易就会把正确选项给忽略。</tspan></text></g>
<g id="n-ex2"><rect class="b" x="479" y="2826" width="116" height="24" rx="4"/><text class="t" x="485" y="2841.8">【例题2】豺狼：凶残</text></g>
<g id="n-ex2a"><rect class="b" x="313" y="2801" width="145" height="25" rx="4"/><text class="t" x="319" y="2817.3">A.喜鹊：报喜 B.小鸟：依人</text></g>
<g id="n-ex2c"><rect class="b" x="313" y="2850" width="145" height="25" rx="4"/><text class="t" x="319" y="2866.3">C.蜜蜂：勤劳 D.梅花：坚强</text></g>
<g id="n-ex2s"><rect class="b" x="364" y="2899" width="231" height="167" rx="4"/><text class="t" x="370" y="2915.8"><tspan x="370">【解析】C。我们可以发现题干给出的豺狼和</tspan><tspan x="370" dy="14.1">凶残之间其实是偏正关系——凶残的豺狼，</tspan><tspan x="370" dy="14.1">所以我们需要在选项中找到一个同样是偏正关</tspan><tspan x="370" dy="14.1">系的选项，A选项喜鹊报喜是主谓关系，排除;</tspan><tspan x="370" dy="14.1">B选项小鸟依人是一个成语，指的是像小鸟那</tspan><tspan x="370" dy="14.1">样依靠着人，从词语成分看，它其实也是主谓</tspan><tspan x="370" dy="14.1">关系，排除;C项勤劳的蜜蜂，符合题干的关系</tspan><tspan x="370" dy="14.1">，保留。D选项坚强的梅花也符合，我们保留</tspan><tspan x="370" dy="14.1">。那么横向间的关系我们分析结束后，接下来</tspan><tspan x="370" dy="14.1">再看纵向，豺狼是动物，蜜蜂也是动物，所以</tspan><tspan x="370" dy="14.1">我们选C。</tspan></text></g>

<g id="n-r1"><rect class="b" x="1688" y="1228" width="68" height="24" rx="4"/><text class="t" x="1694" y="1243.8">一、找特例</text></g>
<g id="n-r1d"><rect class="b" x="1774" y="1060" width="232" height="111" rx="4"/><text class="t" x="1780" y="1077"><tspan x="1780">如果选不正确的，那么在四个选项之间进行横</tspan><tspan x="1780" dy="14.1">向比较，找出一个选项与其他三个选项明显不</tspan><tspan x="1780" dy="14.1">同，该选项一般为正确答案。如果选正确的，</tspan><tspan x="1780" dy="14.1">先找出一个选项与其他三个明显不同，先排除</tspan><tspan x="1780" dy="14.1">该项，然后在其他三个选项间再进行横向比较</tspan><tspan x="1780" dy="14.1">，找出一个与另外两个不同，则这个与另外两</tspan><tspan x="1780" dy="14.1">个选项不同的选项为正确答案。</tspan></text></g>
<g id="n-r1e1"><rect class="b" x="1774" y="1219" width="232" height="39" rx="4"/><text class="t" x="1780" y="1235.3"><tspan x="1780">例1：关于欧洲主权债务危机的原因，下列说</tspan><tspan x="1780" dy="14.1">法不正确的是：</tspan></text></g>
<g id="n-r1e1a"><rect class="b" x="2028" y="1195" width="154" height="24" rx="4"/><text class="t" x="2034" y="1210.8">A.欧元升值 B.欧元区经济低迷</text></g>
<g id="n-r1e1c"><rect class="b" x="2028" y="1251" width="231" height="38" rx="4"/><text class="t" x="2034" y="1266.8"><tspan x="2034">C.巨额财政赤字 D.财政政策与货币政策的不</tspan><tspan x="2034" dy="14.1">协调</tspan></text></g>
<g id="n-r1e1s"><rect class="b" x="2280" y="1243" width="232" height="54" rx="4"/><text class="t" x="2286" y="1259.7"><tspan x="2286">解析：纵观ABCD四个选项，其中只有A选项</tspan><tspan x="2286" dy="14.1">是正面信息，其余选项均为负面信息，因而选</tspan><tspan x="2286" dy="14.1">择A选项。</tspan></text></g>
<g id="n-r1e2"><rect class="b" x="1774" y="1349" width="232" height="39" rx="4"/><text class="t" x="1780" y="1365.3"><tspan x="1780">例2：为了抑制通货膨胀，国家宏观调控部门</tspan><tspan x="1780" dy="14.1">可以采取的措施是：</tspan></text></g>
<g id="n-r1e2a"><rect class="b" x="2028" y="1322" width="188" height="24" rx="4"/><text class="t" x="2034" y="1337.8">A.降低再贴现率 B.降低央行基准利率</text></g>
<g id="n-r1e2c"><rect class="b" x="2028" y="1384" width="231" height="39" rx="4"/><text class="t" x="2034" y="1400.3"><tspan x="2034">C.提高个人所得税起征点 D.提高银行存款准</tspan><tspan x="2034" dy="14.1">备金率</tspan></text></g>
<g id="n-r1e2s"><rect class="b" x="2280" y="1371" width="232" height="67" rx="4"/><text class="t" x="2286" y="1387.2"><tspan x="2286">解析：四个选项中C是个税起征点，其余三项</tspan><tspan x="2286" dy="14.1">均为率，说明实行该政策的主体不同，C排除</tspan><tspan x="2286" dy="14.1">，在剩余三个选项中，A、B项均为降低，只</tspan><tspan x="2286" dy="14.1">有D为提高，故选D。</tspan></text></g>

<g id="n-r2"><rect class="b" x="1688" y="1578" width="68" height="24" rx="4"/><text class="t" x="1694" y="1593.8">二、找矛盾</text></g>
<g id="n-r2d"><rect class="b" x="1774" y="1462" width="232" height="67" rx="4"/><text class="t" x="1780" y="1478.2"><tspan x="1780">观察四个选项，并对选项进行横向比较。如果</tspan><tspan x="1780" dy="14.1">出现两个选项的说法自相矛盾，则可以将其他</tspan><tspan x="1780" dy="14.1">选项排除，答案锁定在这两个自相矛盾的选项</tspan><tspan x="1780" dy="14.1">。同时，被排除的选项则可以用来辅助解题。</tspan></text></g>
<g id="n-r2e"><rect class="b" x="1774" y="1659" width="232" height="53" rx="4"/><text class="t" x="1780" y="1675.2"><tspan x="1780">例：海鸥是最常见的海鸟，被称为海上航行安</tspan><tspan x="1780" dy="14.1">全的"预报员"。下列对海鸥获得"预报员"称号</tspan><tspan x="1780" dy="14.1">的解释中不符合事实的是：</tspan></text></g>
<g id="n-r2a"><rect class="b" x="2028" y="1554" width="231" height="39" rx="4"/><text class="t" x="2034" y="1570.3"><tspan x="2034">A.如果海鸥贴近海面飞行，那么未来的天气将</tspan><tspan x="2034" dy="14.1">是晴好的</tspan></text></g>
<g id="n-r2b"><rect class="b" x="2028" y="1617" width="231" height="39" rx="4"/><text class="t" x="2034" y="1633.3"><tspan x="2034">B.海鸥常落在浅滩、岩石或暗礁周围，航海者</tspan><tspan x="2034" dy="14.1">可据此判断附近是否有暗礁</tspan></text></g>
<g id="n-r2c"><rect class="b" x="2028" y="1680" width="231" height="39" rx="4"/><text class="t" x="2034" y="1696.3"><tspan x="2034">C.海鸥有沿港口出入飞行的习性，迷失方向时</tspan><tspan x="2034" dy="14.1">可观察海鸥的飞行方向寻找港口</tspan></text></g>
<g id="n-r2dd"><rect class="b" x="2028" y="1772" width="231" height="53" rx="4"/><text class="t" x="2034" y="1788.2"><tspan x="2034">D.如果海鸥离开水面高高飞翔，成群结队地</tspan><tspan x="2034" dy="14.1">从海边飞向大海远处，则预示着暴风雨即将来</tspan><tspan x="2034" dy="14.1">临</tspan></text></g>
<g id="n-r2s"><rect class="b" x="2280" y="1744" width="232" height="110" rx="4"/><text class="t" x="2286" y="1760.5"><tspan x="2286">解析：通过观察四个选项，可以发现A项和D</tspan><tspan x="2286" dy="14.1">项都是要飞向大海，A项是天气好，而D项是</tspan><tspan x="2286" dy="14.1">暴风雨即将来临，明显有矛盾。所以排除B项</tspan><tspan x="2286" dy="14.1">和C项。另外根据常理推断，暴风雨来临时海</tspan><tspan x="2286" dy="14.1">上的危险要高于海边陆地，海鸥应当在靠岸的</tspan><tspan x="2286" dy="14.1">地方躲避暴风雨，D选项的说法明显有违常理</tspan><tspan x="2286" dy="14.1">，所以不符合事实。因此，本题选择D选项。</tspan></text></g>

<g id="n-r3"><rect class="b" x="1688" y="2125" width="68" height="24" rx="4"/><text class="t" x="1694" y="2140.8">三、找规律</text></g>
<g id="n-r3d"><rect class="b" x="1774" y="1878" width="232" height="96" rx="4"/><text class="t" x="1780" y="1894.6"><tspan x="1780">在常识判断的选项中，特别是涉及一些法律题</tspan><tspan x="1780" dy="14.1">目的时候，有一些选项的说法太绝对，例如出</tspan><tspan x="1780" dy="14.1">现"必须""禁止""所有""只有"等词语，一般情</tspan><tspan x="1780" dy="14.1">况下该说法错误。而相反如果出现"可以""一</tspan><tspan x="1780" dy="14.1">般""可能""正常情况下"等词语，一般情况下</tspan><tspan x="1780" dy="14.1">可以初步判断为正确选项。</tspan></text></g>
<g id="n-r3e1"><rect class="b" x="1774" y="2072" width="232" height="39" rx="4"/><text class="t" x="1780" y="2088.3"><tspan x="1780">例1：根据《中华人民共和国刑法修正案(八)</tspan><tspan x="1780" dy="14.1">》，下列说法正确的是：</tspan></text></g>
<g id="n-r3e1a"><rect class="b" x="2028" y="2000" width="152" height="23" rx="4"/><text class="t" x="2034" y="2015.3">A.社区矫正不适用于犯罪分子</text></g>
<g id="n-r3e1b"><rect class="b" x="2028" y="2048" width="196" height="24" rx="4"/><text class="t" x="2034" y="2063.8">B.给予外国政府官员财物可能构成犯罪</text></g>
<g id="n-r3e1c"><rect class="b" x="2028" y="2097" width="230" height="24" rx="4"/><text class="t" x="2034" y="2112.8">C.行贿人主动交代行贿行为的，应当减免处罚</text></g>
<g id="n-r3e1d"><rect class="b" x="2028" y="2153" width="231" height="38" rx="4"/><text class="t" x="2034" y="2168.8"><tspan x="2034">D.审判的时候已满七十五周岁的人不应判处</tspan><tspan x="2034" dy="14.1">死刑</tspan></text></g>
<g id="n-r3e1s"><rect class="b" x="2280" y="2146" width="232" height="53" rx="4"/><text class="t" x="2286" y="2162.2"><tspan x="2286">解析：A项"不适用"、C项"应当"与D项"不应</tspan><tspan x="2286" dy="14.1">当"的说法都太绝对，所以说法错误。而B选</tspan><tspan x="2286" dy="14.1">项"可能"说法不绝对，因而当选。</tspan></text></g>
<g id="n-r3e2"><rect class="b" x="1774" y="2329" width="232" height="39" rx="4"/><text class="t" x="1780" y="2345.3"><tspan x="1780">例2：下列关于国家行政机关的说法正确的是</tspan><tspan x="1780" dy="14.1">：</tspan></text></g>
<g id="n-r3e2a"><rect class="b" x="2028" y="2223" width="231" height="40" rx="4"/><text class="t" x="2034" y="2239.8"><tspan x="2034">A.国务院法定的会议形式分为国务院全体会议</tspan><tspan x="2034" dy="14.1">、国务院常务会议和国务院总理办公会议</tspan></text></g>
<g id="n-r3e2b"><rect class="b" x="2028" y="2287" width="207" height="24" rx="4"/><text class="t" x="2034" y="2302.8">B.各级国家行政机关都有权实施行政处罚</text></g>
<g id="n-r3e2c"><rect class="b" x="2028" y="2335" width="231" height="40" rx="4"/><text class="t" x="2034" y="2351.8"><tspan x="2034">C.行政诉讼实行举证责任倒置原则，因此，由</tspan><tspan x="2034" dy="14.1">行政机关承担全部举证责任</tspan></text></g>
<g id="n-r3e2d"><rect class="b" x="2028" y="2435" width="231" height="38" rx="4"/><text class="t" x="2034" y="2450.8"><tspan x="2034">D.国家行政机关公务员被判处刑罚的，给予</tspan><tspan x="2034" dy="14.1">开除处分</tspan></text></g>
<g id="n-r3e2s"><rect class="b" x="2280" y="2399" width="232" height="111" rx="4"/><text class="t" x="2286" y="2416"><tspan x="2286">解析：B项的"各级...都"，C项的"全部"，都是</tspan><tspan x="2286" dy="14.1">太绝对的选项，一般为错误选项，因而可以排</tspan><tspan x="2286" dy="14.1">除。对于A项和D项就需要有基本的常识了。</tspan><tspan x="2286" dy="14.1">我们都知道犯罪的人是不能报考公务员的，而</tspan><tspan x="2286" dy="14.1">公务员被判处刑罚就可以说明公务员犯罪了，</tspan><tspan x="2286" dy="14.1">因而会被给予开除处分。所以D选项说法正确</tspan><tspan x="2286" dy="14.1">。</tspan></text></g>

<g id="n-l1"><rect class="b" x="1687" y="2533" width="203" height="25" rx="4"/><text class="t" x="1693" y="2549.3">★ 2022年份公务员行测考试杂曲知识点</text></g>
<g id="n-l2"><rect class="b" x="1687" y="2582" width="214" height="25" rx="4"/><text class="t" x="1693" y="2598.3">★ 2022年份公考行测考试定义判断题解析</text></g>
<g id="n-l3"><rect class="b" x="1687" y="2631" width="181" height="25" rx="4"/><text class="t" x="1693" y="2647.3">★ 2022年份公考行测节日常识梳理</text></g>
<g id="n-l4"><rect class="b" x="1687" y="2680" width="192" height="25" rx="4"/><text class="t" x="1693" y="2696.3">★ 2022年份公考行测考试历史知识点</text></g>
<g id="n-l5"><rect class="b" x="1687" y="2729" width="203" height="25" rx="4"/><text class="t" x="1693" y="2745.3">★ 2022年份公务员行测考试史记知识点</text></g>
<g id="n-l6"><rect class="b" x="1687" y="2778" width="214" height="25" rx="4"/><text class="t" x="1693" y="2794.3">★ 2022年份公务员行测秦岭淮河线知识点</text></g>
<g id="n-l7"><rect class="b" x="1687" y="2827" width="214" height="25" rx="4"/><text class="t" x="1693" y="2843.3">★ 2022年份公务员行测考试物理知识梳理</text></g>
<g id="n-l8"><rect class="b" x="1687" y="2876" width="203" height="25" rx="4"/><text class="t" x="1693" y="2892.3">★ 2022年份公务员行测常识判断题知识</text></g>
<g id="n-l9"><rect class="b" x="1687" y="2926" width="232" height="39" rx="4"/><text class="t" x="1693" y="2942.3"><tspan x="1693">★ 2022年份公务员行测考试地方政府演变知</tspan><tspan x="1693" dy="14.1">识</tspan></text></g>
<g id="n-l10"><rect class="b" x="1687" y="2989" width="203" height="25" rx="4"/><text class="t" x="1693" y="3005.3">★ 2022年份国考行测科技知识常识梳理</text></g>

<g id="watermark">
<text class="wm" x="615" y="580" text-anchor="middle" transform="rotate(-33 615 545)">树图 shutu.cn</text>
<text class="wm" x="615" y="1555" text-anchor="middle" transform="rotate(-33 615 1520)">树图 shutu.cn</text>
<text class="wm" x="610" y="2535" text-anchor="middle" transform="rotate(-33 610 2500)">树图 shutu.cn</text>
<text class="wm" x="1926" y="552" text-anchor="middle" transform="rotate(-33 1926 517)">树图 shutu.cn</text>
<text class="wm" x="1926" y="1540" text-anchor="middle" transform="rotate(-33 1926 1505)">树图 shutu.cn</text>
<text class="wm" x="1928" y="2545" text-anchor="middle" transform="rotate(-33 1928 2510)">树图 shutu.cn</text>
</g>
</svg>
